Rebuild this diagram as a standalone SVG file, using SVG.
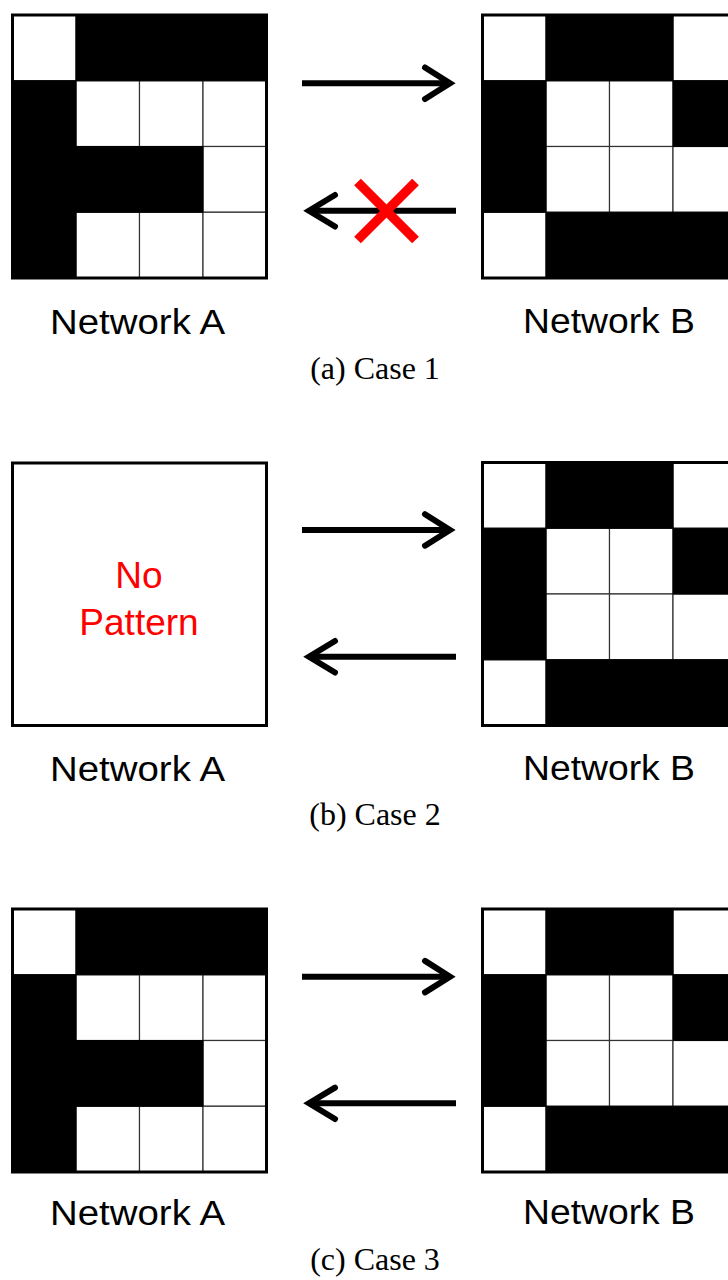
<svg xmlns="http://www.w3.org/2000/svg" xmlns:xlink="http://www.w3.org/1999/xlink" width="728" height="1280" viewBox="0 0 728 1280">
<style>
.w{fill:#fff;stroke:#333;stroke-width:1.2}
.b{fill:#000;stroke:#000;stroke-width:1}
.frame{fill:none;stroke:#000;stroke-width:3}
.lbl{font-family:"Liberation Sans",Arial,sans-serif;font-size:35px;fill:#000;text-anchor:middle}
.cap{font-family:"Liberation Serif","Times New Roman",serif;font-size:32px;fill:#000;text-anchor:middle}
.np{font-family:"Liberation Sans",Arial,sans-serif;font-size:37px;fill:#ff0000;text-anchor:middle}
.shaft{stroke:#000;stroke-width:6;fill:none}
.head{stroke:#000;stroke-width:6;fill:none;stroke-linecap:round;stroke-linejoin:miter}
.x{stroke:#ff0000;stroke-width:9.5;fill:none}
</style>
<defs>
<g id="patA">
<rect class="w" x="0" y="0" width="63.5" height="65.75"/>
<rect class="w" x="63.5" y="65.75" width="63.5" height="65.75"/>
<rect class="w" x="127" y="65.75" width="63.5" height="65.75"/>
<rect class="w" x="190.5" y="65.75" width="63.5" height="65.75"/>
<rect class="w" x="190.5" y="131.5" width="63.5" height="65.75"/>
<rect class="w" x="63.5" y="197.25" width="63.5" height="65.75"/>
<rect class="w" x="127" y="197.25" width="63.5" height="65.75"/>
<rect class="w" x="190.5" y="197.25" width="63.5" height="65.75"/>
<rect class="b" x="63.5" y="0" width="190.5" height="65.75"/>
<rect class="b" x="0" y="65.75" width="63.5" height="197.25"/>
<rect class="b" x="63.5" y="131.5" width="127" height="65.75"/>
<rect class="frame" x="0" y="0" width="254" height="263"/>
</g>
<g id="patB">
<rect class="w" x="0" y="0" width="63.5" height="65.75"/>
<rect class="w" x="190.5" y="0" width="63.5" height="65.75"/>
<rect class="w" x="63.5" y="65.75" width="63.5" height="65.75"/>
<rect class="w" x="127" y="65.75" width="63.5" height="65.75"/>
<rect class="w" x="63.5" y="131.5" width="63.5" height="65.75"/>
<rect class="w" x="127" y="131.5" width="63.5" height="65.75"/>
<rect class="w" x="190.5" y="131.5" width="63.5" height="65.75"/>
<rect class="w" x="0" y="197.25" width="63.5" height="65.75"/>
<rect class="b" x="63.5" y="0" width="127" height="65.75"/>
<rect class="b" x="0" y="65.75" width="63.5" height="131.5"/>
<rect class="b" x="190.5" y="65.75" width="63.5" height="65.75"/>
<rect class="b" x="63.5" y="197.25" width="190.5" height="65.75"/>
<rect class="frame" x="0" y="0" width="254" height="263"/>
</g>
</defs>
<rect x="0" y="0" width="728" height="1280" fill="#fff"/>

<!-- Case 1 -->
<g id="case1-networkA">
<use xlink:href="#patA" href="#patA" transform="translate(12.5,15)"/>
<text class="lbl" x="137.5" y="334" textLength="175" lengthAdjust="spacingAndGlyphs">Network A</text>
</g>
<g id="case1-networkB">
<use xlink:href="#patB" href="#patB" transform="translate(482.5,15)"/>
<text class="lbl" x="609" y="333" textLength="172" lengthAdjust="spacingAndGlyphs">Network B</text>
</g>
<g id="case1-connectors">
<path class="shaft" d="M302,83.3 H447"/>
<path class="head" d="M425,67.5 L450,83.3 L425,99"/>
<path class="shaft" d="M312,210.7 H456"/>
<path class="head" d="M335,195 L309,210.7 L335,226.5"/>
<path class="x" d="M357.5,182 L415.5,240 M415.5,182 L357.5,240"/>
</g>
<text class="cap" x="375" y="379">(a) Case 1</text>

<!-- Case 2 -->
<g id="case2-networkA">
<rect class="frame" x="12.5" y="463" width="254" height="262.5" fill="#fff"/>
<text class="np" x="139" y="588">No</text>
<text class="np" x="139" y="635">Pattern</text>
<text class="lbl" x="137.5" y="781" textLength="175" lengthAdjust="spacingAndGlyphs">Network A</text>
</g>
<g id="case2-networkB">
<use xlink:href="#patB" href="#patB" transform="translate(482.5,462.5)"/>
<text class="lbl" x="609" y="780" textLength="172" lengthAdjust="spacingAndGlyphs">Network B</text>
</g>
<g id="case2-connectors">
<path class="shaft" d="M302,530 H447"/>
<path class="head" d="M425,514.2 L450,530 L425,545.7"/>
<path class="shaft" d="M312,656.7 H456"/>
<path class="head" d="M335,641 L309,656.7 L335,672.5"/>
</g>
<text class="cap" x="375" y="825">(b) Case 2</text>

<!-- Case 3 -->
<g id="case3-networkA">
<use xlink:href="#patA" href="#patA" transform="translate(12.5,909)"/>
<text class="lbl" x="137.5" y="1225" textLength="175" lengthAdjust="spacingAndGlyphs">Network A</text>
</g>
<g id="case3-networkB">
<use xlink:href="#patB" href="#patB" transform="translate(482.5,909)"/>
<text class="lbl" x="609" y="1224" textLength="172" lengthAdjust="spacingAndGlyphs">Network B</text>
</g>
<g id="case3-connectors">
<path class="shaft" d="M302,976.7 H447"/>
<path class="head" d="M425,960.9 L450,976.7 L425,992.4"/>
<path class="shaft" d="M312,1103.3 H456"/>
<path class="head" d="M335,1087.6 L309,1103.3 L335,1119"/>
</g>
<text class="cap" x="375" y="1269.5">(c) Case 3</text>
</svg>
